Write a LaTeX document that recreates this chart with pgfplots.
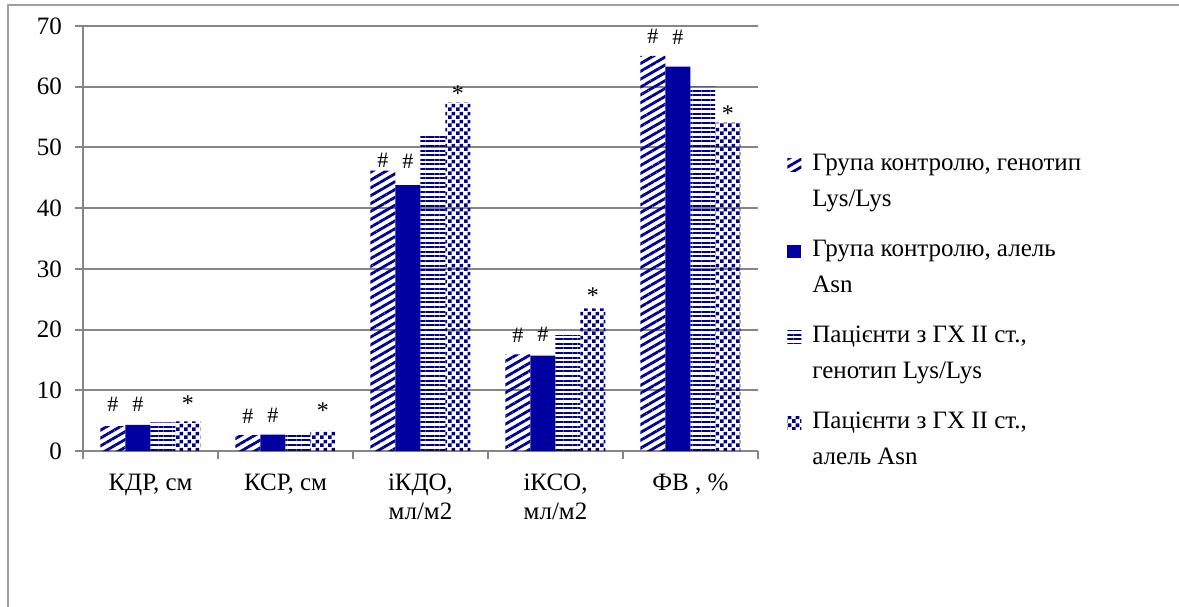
\documentclass[border=0pt]{standalone}
\usepackage{fontspec}
\setmainfont{Liberation Serif}
\usepackage{pgfplots}
\usepackage{pgfplotstable}
\pgfplotsset{compat=1.18}
\usetikzlibrary{patterns,patterns.meta}
\definecolor{navy}{RGB}{0,0,150}
\definecolor{navysolid}{RGB}{0,0,160}
\definecolor{gridgray}{RGB}{134,134,134}
\definecolor{framegray}{RGB}{160,160,160}
\tikzdeclarepattern{name=mycheck, type=uncolored,
  bottom left={(0pt,0pt)}, top right={(4pt,4pt)}, tile size={(4pt,4pt)},
  code={\fill (0pt,0pt) rectangle (2pt,2pt); \fill (2pt,2pt) rectangle (4pt,4pt);}}
% x: category, y: value, lab: mark above bar, dy: gap (pt) between bar top and mark
\pgfplotstableread{
x y    lab dy
1 4.1  \#  7.2
2 2.6  \#  5.7
3 46.2 \#  1.2
4 15.9 \#  6.0
5 65.1 \#  5.8
}\sone
\pgfplotstableread{
x y    lab dy
1 4.3  \#  6.7
2 2.7  \#  5.7
3 43.8 \#  8.2
4 15.7 \#  6.7
5 63.3 \#  11.1
}\stwo
\pgfplotstableread{
x y
1 4.7
2 2.9
3 51.9
4 19.1
5 60.0
}\sthree
\pgfplotstableread{
x y    lab dy
1 4.9  *   4.5
2 3.3  *   5.8
3 57.4 *   0.3
4 23.5 *   2.1
5 54.1 *   0.3
}\sfour
\begin{document}
\begin{tikzpicture}
\path[use as bounding box] (-41.5pt,-77.5pt) rectangle (548pt,225.5pt);
\draw[framegray, line width=1pt] (-37.5pt,-80pt) -- (-37.5pt,223pt) -- (552pt,223pt);
\begin{axis}[
  at={(0pt,0pt)}, anchor=south west,
  scale only axis, width=337.5pt, height=212.5pt,
  xmin=0.5, xmax=5.5, ymin=0, ymax=70,
  ybar=0pt, bar width=12.5pt,
  ytick={0,10,...,70},
  xtick={0.5,1.5,...,5.5}, xticklabels={},
  extra x ticks={1,2,3,4,5},
  extra x tick labels={{КДР, см},{КСР, см},{іКДО,\\мл/м2},{іКСО,\\мл/м2},{ФВ , \%}},
  extra x tick style={major tick length=0pt, grid=none},
  x tick label style={align=center, font=\fontsize{12.5}{14.5}\selectfont, yshift=-8pt},
  y tick label style={font=\fontsize{12.5}{14.5}\selectfont, xshift=-3pt},
  /pgf/number format/assume math mode=true,
  tick align=outside, major tick length=4pt,
  tick style={draw=gridgray, line width=1pt},
  axis x line*=bottom, axis y line*=left,
  axis line style={draw=gridgray, line width=1pt, -},
  ymajorgrids, major grid style={draw=gridgray, line width=1pt},
  legend style={at={(1.043,0.70)}, anchor=north west, draw=none, fill=none, inner sep=0pt,
    font=\fontsize{12.5}{18.25}\selectfont, row sep=15pt, column sep=5.5pt,
    nodes={inner sep=0pt}, cells={align=left}},
  legend cell align=left,
  legend image code/.code={\path[#1] (0pt,5pt) rectangle (7pt,11.5pt);},
  labs/.style={nodes near coords, point meta=explicit symbolic,
    visualization depends on={\thisrow{dy} \as \labdy},
    every node near coord/.append style={text=black, font=\fontsize{#1}{#1}\selectfont,
      anchor=south, inner sep=0pt, yshift=\labdy}},
]
\addplot[draw=none, pattern={Lines[angle=30,distance=3.4pt,line width=1.4pt]}, pattern color=navy, labs=11]
  table[x=x, y=y, meta=lab] {\sone};
\addlegendentry{Група контролю, генотип\\Lys/Lys}
\addplot[draw=none, fill=navysolid, labs=11]
  table[x=x, y=y, meta=lab] {\stwo};
\addlegendentry{Група контролю, алель\\Asn}
\addplot[draw=none, pattern={Lines[angle=0,distance=2.3pt,line width=1pt]}, pattern color=navy]
  table[x=x, y=y] {\sthree};
\addlegendentry{Пацієнти з ГХ II ст.,\\генотип Lys/Lys}
\addplot[draw=none, pattern=mycheck, pattern color=navy, labs=12]
  table[x=x, y=y, meta=lab] {\sfour};
\addlegendentry{Пацієнти з ГХ II ст.,\\алель Asn}
\end{axis}
\end{tikzpicture}
\end{document}
